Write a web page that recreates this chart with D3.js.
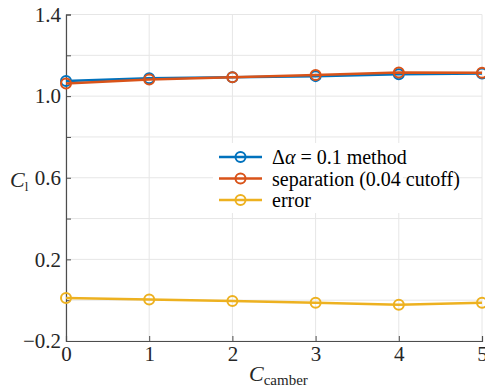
<!DOCTYPE html>
<html><head><meta charset="utf-8">
<script src="https://cdn.jsdelivr.net/npm/d3@7"></script>
<style>
body{margin:0;background:#fff}
svg text, svg tspan{font-family:"Liberation Serif", serif !important}
</style>
</head><body><svg id="c" width="485" height="388" font-family="Liberation Serif"></svg>
<script>
const camber = [0, 1, 2, 3, 4, 5];
const deltaMethod = [1.074, 1.088, 1.093, 1.098, 1.107, 1.111];
const separation = [1.062, 1.081, 1.093, 1.103, 1.116, 1.114];
const errorVals = [0.011, 0.003, -0.004, -0.012, -0.022, -0.013];
const yTicks = [-0.2, 0.2, 0.6, 1.0, 1.4];
const yGrid = [-0.2, 0, 0.2, 0.4, 0.6, 0.8, 1.0, 1.2, 1.4];
const xTicks = [0, 1, 2, 3, 4, 5];
const seriesNames = ["Δα = 0.1  method", "separation (0.04 cutoff)", "error"];
const colors = ["#0072BD", "#D95319", "#EDB120"];
const FF = '"Liberation Serif"';

const svg = d3.select("#c");
const x = d3.scaleLinear().domain([0, 5]).range([66, 482]);
const y = d3.scaleLinear().domain([-0.2, 1.4]).range([341, 14.5]);

// grid
svg.append("g").selectAll("line").data(yGrid).join("line")
  .attr("x1", x(0)).attr("x2", x(5)).attr("y1", d => y(d)).attr("y2", d => y(d))
  .attr("stroke", "#e6e6e6").attr("stroke-width", 1);
svg.append("g").selectAll("line").data(xTicks).join("line")
  .attr("x1", d => x(d)).attr("x2", d => x(d)).attr("y1", y(-0.2)).attr("y2", y(1.4))
  .attr("stroke", "#e6e6e6").attr("stroke-width", 1);

// axes
const yAxis = d3.axisLeft(y).tickValues(yGrid).tickSize(-5).tickFormat(d => yTicks.some(t => Math.abs(t - d) < 1e-9) ? d3.format(".1f")(d).replace("-", "\u2212") : "");
const gy = svg.append("g").attr("transform", `translate(${x(0)},0)`).call(yAxis);
gy.attr("font-family", FF);
gy.select(".domain").attr("stroke", "#4d4d4d").attr("stroke-width", 1.2);
gy.selectAll(".tick line").attr("stroke", "#4d4d4d");
gy.selectAll("text").attr("x", -5).style("font-family", FF).style("font-size", "21px").attr("fill", "#262626");

const xAxis = d3.axisBottom(x).tickValues(xTicks).tickSize(-5).tickFormat(d3.format("d"));
const gx = svg.append("g").attr("transform", `translate(0,${y(-0.2)})`).call(xAxis);
gx.attr("font-family", FF);
gx.select(".domain").attr("stroke", "#4d4d4d").attr("stroke-width", 1.2);
gx.selectAll(".tick line").attr("stroke", "#4d4d4d");
gx.selectAll("text").attr("y", 5).style("font-family", FF).style("font-size", "21px").attr("fill", "#262626");

// labels
const yl = svg.append("text").attr("x", 10).attr("y", 187).style("font-family", FF).style("font-size", "22px").attr("fill", "#262626");
yl.append("tspan").style("font-style", "italic").text("C");
yl.append("tspan").style("font-size", "13px").attr("dy", 4).text("l");
const xl = svg.append("text").attr("x", 249).attr("y", 381).style("font-family", FF).style("font-size", "22px").attr("fill", "#262626");
xl.append("tspan").style("font-style", "italic").text("C");
xl.append("tspan").style("font-size", "15px").attr("dy", 4).text("camber");

// series
const all = [deltaMethod, separation, errorVals];
const line = d3.line().x((d, i) => x(camber[i])).y(d => y(d));
all.forEach((vals, k) => {
  const g = svg.append("g");
  g.append("path").datum(vals).attr("d", line).attr("fill", "none")
    .attr("stroke", colors[k]).attr("stroke-width", 2.5);
  g.selectAll("circle").data(vals).join("circle")
    .attr("cx", (d, i) => x(camber[i])).attr("cy", d => y(d)).attr("r", 5)
    .attr("fill", "none").attr("stroke", colors[k]).attr("stroke-width", 2);
});

// legend
const lg = svg.append("g");
lg.append("rect").attr("x", 213).attr("y", 143).attr("width", 190).attr("height", 70).attr("fill", "#fff");
seriesNames.forEach((n, k) => {
  const yy = 157 + k * 21.5;
  lg.append("line").attr("x1", 219).attr("x2", 262).attr("y1", yy).attr("y2", yy)
    .attr("stroke", colors[k]).attr("stroke-width", 2.5);
  lg.append("circle").attr("cx", 240.5).attr("cy", yy).attr("r", 5)
    .attr("fill", "none").attr("stroke", colors[k]).attr("stroke-width", 2);
  const t = lg.append("text").attr("x", 272).attr("y", yy + 7).style("font-family", FF).style("font-size", "20px").attr("fill", "#000");
  if (k === 0) {
    t.append("tspan").text("Δ");
    t.append("tspan").style("font-style", "italic").text("α");
    t.append("tspan").text(" = 0.1  method");
  } else t.text(n);
});
</script></body></html>
